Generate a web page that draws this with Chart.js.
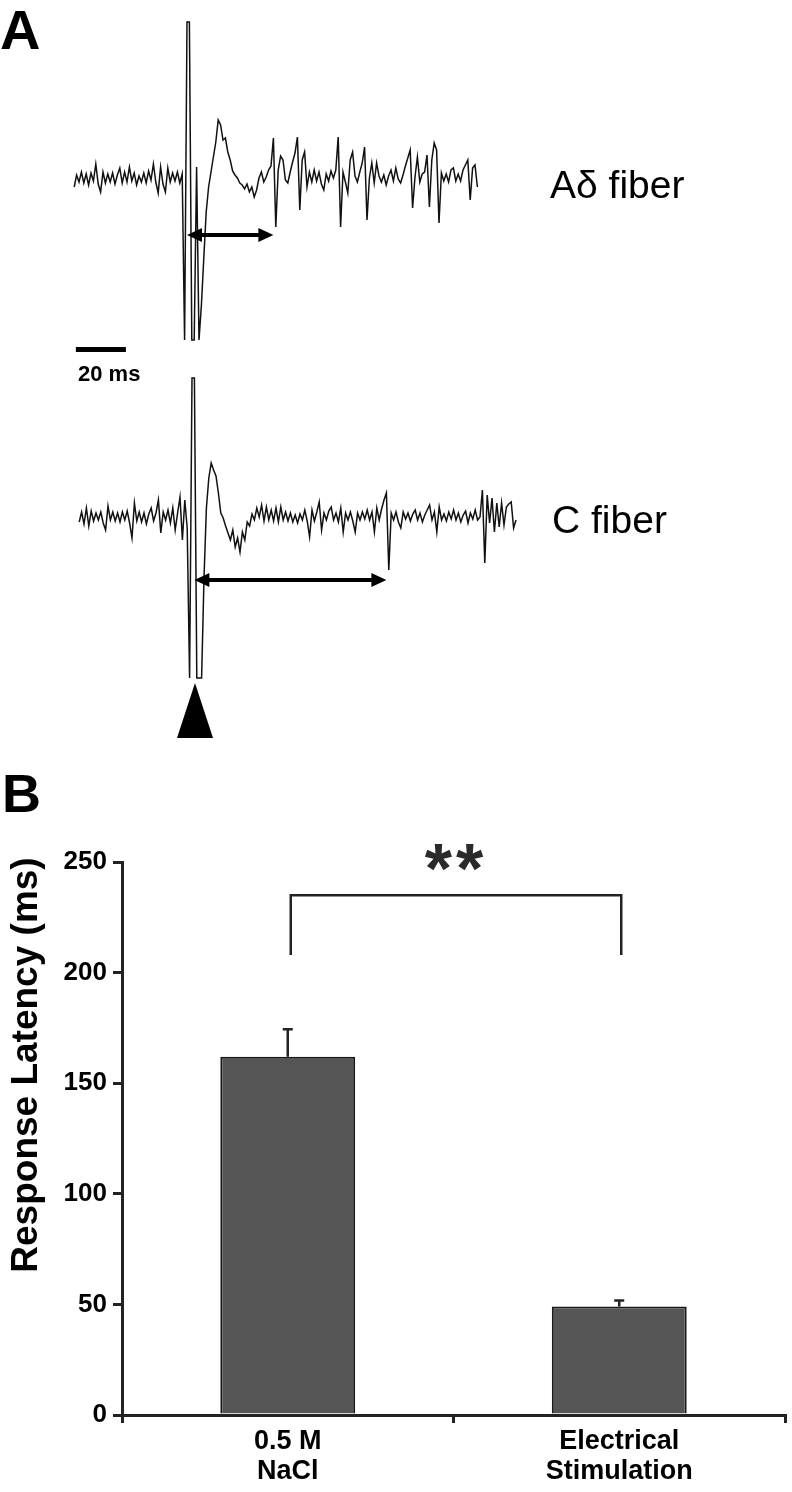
<!DOCTYPE html>
<html><head><meta charset="utf-8">
<script src="https://cdn.jsdelivr.net/npm/chart.js@4/dist/chart.umd.min.js"></script>
<style>html,body{margin:0;padding:0;background:#fff}canvas{display:block}</style>
</head><body>
<canvas id="panelA" width="792" height="760"></canvas>
<canvas id="panelB" width="792" height="732"></canvas>
<script>
// ---------- Panel A: recorded traces (1 ms sampling, amplitude in arbitrary units) ----------
const SAMPLE_MS = 1;
const traceAStartMs = -47;
const traceAdelta = [
  -7,5,-2,8,-3,6,-5,7,-1,16, -4,-12,8,-3,6,-2,7,-4,5,12, -3,8,-2,13,-1,7,-5,4,-2,7, -3,9,0,16,-2,-13,13,-4,-12,12, -2,7,-1,8,-3,6,
  -160,158,158,-160,-160,13,-160,-125,-78,-32,-7,8,23,38,60,
  55,40,42,28,20,9,5,2,-3,-5, -9,-4,-12,-7,-17,-10,2,8,-2,3, 10,14,42,-47,10,24,20,0,-3,8,
  18,27,43,-30,20,28,-7,8,-2,10, -1,8,-4,-10,6,-1,9,2,10,43, -47,8,-2,-13,20,28,4,-2,8,17,
  33,-40,2,17,-3,17,4,-2,5,-5, 4,10,-1,12,1,-3,5,14,22,30, -28,3,23,-2,6,8,25,-27,20,37,
  30,-43,7,-1,6,-2,10,12,-1,6, -1,10,15,20,-20,12,15,-7
];
const traceCStartMs = -47;
const traceCfiber = [
  -4,6,-6,10,-8,7,-3,5,-2,6, -5,-12,12,-2,6,-3,5,-4,6,-2, 7,-5,-20,15,-3,6,-4,5,-6,4, 10,-3,5,18,-15,6,-2,8,-5,10, -12,5,21,-22,18,-10,
  -160,140,140,-160,-160,-160,-60,10,40,55,
  48,42,25,5,0,-8,-15,-22,-12,-29, -20,-34,-14,-22,-4,-8,4,-2,10,1, 13,-3,11,-2,8,-3,10,-4,11,-2,
  6,-3,5,-4,3,-5,4,-2,8,-3, -19,8,-3,6,16,-12,5,-2,7,11, -2,5,-4,10,-14,5,-2,6,-3,-14,
  5,-2,6,-1,8,-2,6,-14,10,-2, 9,18,25,-52,5,-2,6,-4,-10,6, -1,5,-3,4,8,-2,5,-4,3,8,
  13,-2,6,-14,11,-2,4,-3,6,-1, 8,-2,5,-4,3,7,-5,5,-1,8, -2,1,28,-45,23,-5,20,-14,15,-9,
  15,-7,11,14,16,-10,-2
];
const latencyAms = [0, 36];   // stimulus to first A-delta response
const latencyCms = [1, 81];   // stimulus to first C response
const scaleBarMs = 20;
const traceLabels = ['A\u03b4 fiber', 'C fiber'];

// ---------- Panel B: bar chart ----------
const categories = [['0.5 M', 'NaCl'], ['Electrical', 'Stimulation']];
const latencyMean = [162, 49];
const latencySEM = [12.4, 2.8];
const yTickStep = 50;
const yMax = 250;
const bracketLevels = [235, 208];
const significance = '**';

const FONT = "'Liberation Sans', Arial, Helvetica, sans-serif";
Chart.defaults.font.family = FONT;

const toXY = (start, arr) => arr.map((v, i) => ({ x: start + i * SAMPLE_MS, y: v }));

function arrow(ctx, x1, x2, y) {
  const hl = 15, hw = 7;
  ctx.save();
  ctx.strokeStyle = '#000'; ctx.fillStyle = '#000'; ctx.lineWidth = 4;
  ctx.beginPath(); ctx.moveTo(x1 + hl - 2, y); ctx.lineTo(x2 - hl + 2, y); ctx.stroke();
  ctx.beginPath(); ctx.moveTo(x1, y); ctx.lineTo(x1 + hl, y - hw); ctx.lineTo(x1 + hl, y + hw); ctx.closePath(); ctx.fill();
  ctx.beginPath(); ctx.moveTo(x2, y); ctx.lineTo(x2 - hl, y - hw); ctx.lineTo(x2 - hl, y + hw); ctx.closePath(); ctx.fill();
  ctx.restore();
}

const annotA = {
  id: 'annotA',
  afterDatasetsDraw(chart) {
    const { ctx } = chart;
    const { xA, yA, xC, yC } = chart.scales;
    arrow(ctx, xA.getPixelForValue(latencyAms[0]), xA.getPixelForValue(latencyAms[1]), yA.getPixelForValue(-55));
    arrow(ctx, xC.getPixelForValue(latencyCms[0]), xC.getPixelForValue(latencyCms[1]), yC.getPixelForValue(-62));
    // scale bar
    const sx0 = xA.getPixelForValue(-46.3), sx1 = xA.getPixelForValue(-46.3 + scaleBarMs);
    const sy = yA.getPixelForValue(-169.5);
    ctx.save();
    ctx.fillStyle = '#000';
    ctx.fillRect(sx0, sy - 2.5, sx1 - sx0 + 2, 5);
    ctx.font = 'bold 22px ' + FONT;
    ctx.textAlign = 'left'; ctx.textBaseline = 'middle';
    ctx.fillText(scaleBarMs + ' ms', 78, 375);
    // stimulus triangle
    const tx = xC.getPixelForValue(1.25);
    ctx.beginPath(); ctx.moveTo(tx, 683); ctx.lineTo(tx + 18, 738); ctx.lineTo(tx - 18, 738); ctx.closePath(); ctx.fill();
    // labels
    ctx.font = '39px ' + FONT;
    ctx.fillText(traceLabels[0], 550, 187);
    ctx.fillText(traceLabels[1], 552, 522);
    ctx.font = 'bold 56px ' + FONT;
    ctx.textBaseline = 'alphabetic';
    ctx.fillText('A', 0, 49);
    ctx.restore();
  }
};

new Chart(document.getElementById('panelA'), {
  type: 'scatter',
  data: {
    datasets: [
      { data: toXY(traceAStartMs, traceAdelta), xAxisID: 'xA', yAxisID: 'yA', showLine: true,
        borderColor: '#111', borderWidth: 1.5, pointRadius: 0, tension: 0 },
      { data: toXY(traceCStartMs, traceCfiber), xAxisID: 'xC', yAxisID: 'yC', showLine: true,
        borderColor: '#111', borderWidth: 1.5, pointRadius: 0, tension: 0 }
    ]
  },
  options: {
    responsive: false, animation: false, devicePixelRatio: 1,
    layout: { padding: 0 },
    plugins: { legend: { display: false }, tooltip: { enabled: false } },
    scales: {
      xA: { type: 'linear', display: false, min: -187 / 2.4, max: (792 - 187) / 2.4 },
      xC: { type: 'linear', display: false, min: -192 / 2.4, max: (792 - 192) / 2.4 },
      yA: { type: 'linear', display: false, min: 180 - 760, max: 180 },
      yC: { type: 'linear', display: false, min: 518 - 760, max: 518 }
    }
  },
  plugins: [annotA]
});

const annotB = {
  id: 'annotB',
  afterDatasetsDraw(chart) {
    const { ctx } = chart;
    const y = chart.scales.y;
    const meta = chart.getDatasetMeta(0);
    ctx.save();
    ctx.strokeStyle = '#222'; ctx.lineWidth = 2.5;
    meta.data.forEach((bar, i) => {
      const yTop = y.getPixelForValue(latencyMean[i] + latencySEM[i]);
      ctx.beginPath();
      ctx.moveTo(bar.x, bar.y); ctx.lineTo(bar.x, yTop);
      ctx.moveTo(bar.x - 5, yTop); ctx.lineTo(bar.x + 5, yTop);
      ctx.stroke();
    });
    const x0 = meta.data[0].x + 3, x1 = meta.data[1].x + 2;
    const yH = y.getPixelForValue(bracketLevels[0]), yL = y.getPixelForValue(bracketLevels[1]);
    ctx.beginPath();
    ctx.moveTo(x0, yL); ctx.lineTo(x0, yH); ctx.lineTo(x1, yH); ctx.lineTo(x1, yL);
    ctx.stroke();
    ctx.fillStyle = '#2a2a2a';
    ctx.font = 'bold 70px ' + FONT;
    ctx.textAlign = 'center'; ctx.textBaseline = 'alphabetic';
    if ('letterSpacing' in ctx) ctx.letterSpacing = '4px';
    ctx.fillText(significance, (x0 + x1) / 2, yH + 0.40 * 70 - 30);
    if ('letterSpacing' in ctx) ctx.letterSpacing = '0px';
    // y-axis title
    ctx.fillStyle = '#000';
    ctx.save();
    ctx.translate(27, 305);
    ctx.rotate(-Math.PI / 2);
    ctx.font = 'bold 37px ' + FONT;
    ctx.textAlign = 'center'; ctx.textBaseline = 'middle';
    ctx.fillText('Response Latency (ms)', 0, 0);
    ctx.restore();
    // panel label
    ctx.font = 'bold 54px ' + FONT;
    ctx.textAlign = 'left'; ctx.textBaseline = 'alphabetic';
    ctx.fillText('B', 2, 52);
    ctx.restore();
  }
};

new Chart(document.getElementById('panelB'), {
  type: 'bar',
  data: {
    labels: categories,
    datasets: [{ data: latencyMean, backgroundColor: '#555555', borderColor: '#1a1a1a', borderWidth: 2,
      barPercentage: 0.407, categoryPercentage: 1 }]
  },
  options: {
    responsive: false, animation: false, devicePixelRatio: 1,
    layout: { padding: { left: 0, right: 7, top: 102, bottom: 0 } },
    plugins: { legend: { display: false }, tooltip: { enabled: false } },
    scales: {
      x: {
        grid: { display: true, drawOnChartArea: false, drawTicks: true, tickLength: 8, lineWidth: 3, color: '#222', offset: true },
        border: { display: true, width: 3, color: '#222' },
        ticks: { color: '#000', font: { size: 27, weight: 'bold', lineHeight: 1.1 }, padding: 4, maxRotation: 0, autoSkip: false },
        afterFit(s) { s.height = 77; }
      },
      y: {
        min: 0, max: yMax,
        ticks: { stepSize: yTickStep, color: '#000', font: { size: 26, weight: 'bold' }, padding: 6 },
        grid: { drawOnChartArea: false, tickLength: 9, lineWidth: 3, color: '#222' },
        border: { display: true, width: 3, color: '#222' },
        afterFit(s) { s.width = 122; }
      }
    }
  },
  plugins: [annotB]
});
</script>
</body></html>
